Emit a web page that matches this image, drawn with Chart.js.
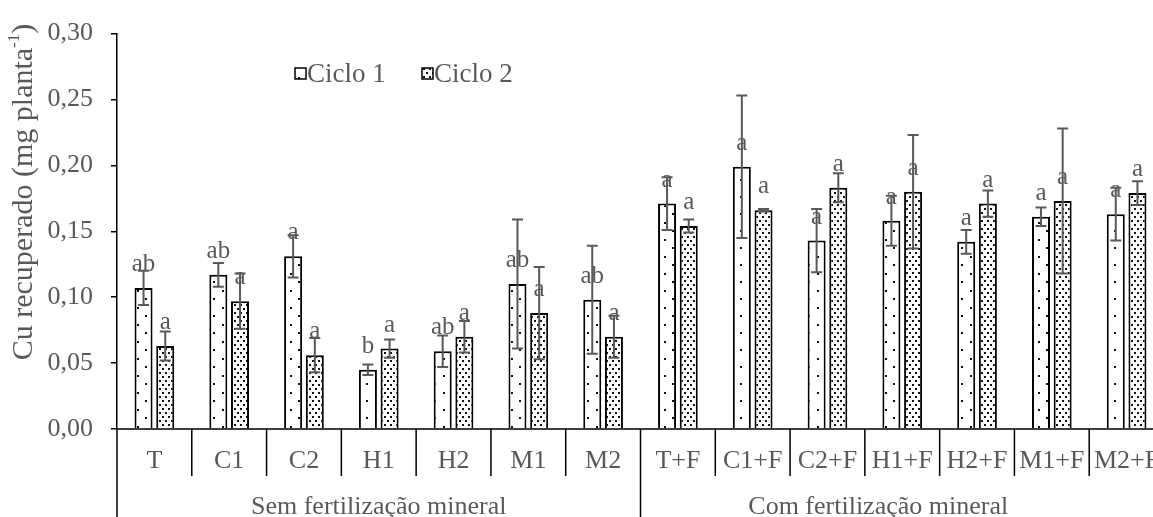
<!DOCTYPE html>
<html>
<head>
<meta charset="utf-8">
<script src="https://cdn.jsdelivr.net/npm/chart.js@4"></script>
<style>
  html, body { margin: 0; padding: 0; background: #fff; overflow: hidden; }
  #wrap { width: 1165px; height: 517px; }
</style>
</head>
<body>
<div id="wrap"><canvas id="c" width="1165" height="517"></canvas></div>
<script>
// ---- data ----
const categories = ['T','C1','C2','H1','H2','M1','M2','T+F','C1+F','C2+F','H1+F','H2+F','M1+F','M2+F'];
const groupLabels = ['Sem fertilização mineral', 'Com fertilização mineral'];
const groupStarts = [0, 7];
const groupEnds = [6, 13];
const seriesNames = ['Ciclo 1', 'Ciclo 2'];
const ciclo1 = [0.107, 0.117, 0.131, 0.045, 0.059, 0.110, 0.098, 0.171, 0.199, 0.143, 0.158, 0.142, 0.161, 0.163];
const ciclo2 = [0.063, 0.097, 0.056, 0.061, 0.070, 0.088, 0.070, 0.154, 0.166, 0.183, 0.180, 0.171, 0.173, 0.179];
const err1 = [0.013, 0.009, 0.016, 0.004, 0.012, 0.049, 0.041, 0.020, 0.054, 0.024, 0.019, 0.009, 0.007, 0.020];
const err2 = [0.011, 0.021, 0.013, 0.007, 0.012, 0.035, 0.016, 0.005, 0.001, 0.011, 0.043, 0.010, 0.055, 0.009];
const letters1 = ['ab','ab','a','b','ab','ab','ab','a','a','a','a','a','a','a'];
const letters2 = ['a','a','a','a','a','a','a','a','a','a','a','a','a','a'];
const yTicks = [0, 0.05, 0.10, 0.15, 0.20, 0.25, 0.30];
const yTitle = 'Cu recuperado (mg planta';
const yTitleSup = '-1';
const yTitleEnd = ')';

// ---- styles ----
const FONT = "'Liberation Serif', 'Times New Roman', serif";
const TEXT = '#595959';

function makePattern(w, h, dots, size) {
  const c = document.createElement('canvas');
  c.width = w; c.height = h;
  const g = c.getContext('2d');
  g.fillStyle = '#fff'; g.fillRect(0, 0, w, h);
  g.fillStyle = '#111';
  dots.forEach(d => g.fillRect(d[0], d[1], size, size));
  return document.getElementById('c').getContext('2d').createPattern(c, 'repeat');
}
const pat1 = makePattern(17, 17, [[1,1],[9,9]], 2);
const pat2 = makePattern(6, 8, [[0,0],[3,4]], 2);

const custom = {
  id: 'custom',
  afterDatasetsDraw(chart) {
    const ctx = chart.ctx, y = chart.scales.y;
    const errs = [err1, err2], lets = [letters1, letters2];
    // letters
    ctx.save();
    ctx.font = '25px ' + FONT;
    ctx.fillStyle = TEXT;
    ctx.textAlign = 'center';
    ctx.textBaseline = 'alphabetic';
    [0,1].forEach(di => {
      chart.getDatasetMeta(di).data.forEach((bar, i) => {
        ctx.fillText(lets[di][i], bar.x, bar.y - 17);
      });
    });
    // error bars
    ctx.strokeStyle = TEXT;
    ctx.lineWidth = 2;
    [0,1].forEach(di => {
      const vals = chart.data.datasets[di].data;
      chart.getDatasetMeta(di).data.forEach((bar, i) => {
        const t = y.getPixelForValue(vals[i] + errs[di][i]);
        const b = y.getPixelForValue(vals[i] - errs[di][i]);
        ctx.beginPath();
        ctx.moveTo(bar.x, t); ctx.lineTo(bar.x, b);
        ctx.moveTo(bar.x - 5.5, t); ctx.lineTo(bar.x + 5.5, t);
        ctx.moveTo(bar.x - 5.5, b); ctx.lineTo(bar.x + 5.5, b);
        ctx.stroke();
      });
    });
    ctx.restore();
  },
  afterDraw(chart) {
    const ctx = chart.ctx, x = chart.scales.x, area = chart.chartArea;
    const H = chart.height;
    const half = (x.getPixelForValue(1) - x.getPixelForValue(0)) / 2;
    ctx.save();
    // axis lines
    ctx.strokeStyle = '#000';
    ctx.lineWidth = 1.5;
    ctx.beginPath();
    ctx.moveTo(area.left, area.bottom); ctx.lineTo(area.right, area.bottom);
    ctx.moveTo(area.left, area.bottom); ctx.lineTo(area.left, H);
    for (let i = 1; i < categories.length; i++) {
      const bx = x.getPixelForValue(i) - half;
      const isGroup = groupStarts.includes(i);
      ctx.moveTo(bx, area.bottom); ctx.lineTo(bx, isGroup ? H : area.bottom + 47);
    }
    ctx.stroke();
    // category labels
    ctx.fillStyle = TEXT;
    ctx.font = '26px ' + FONT;
    ctx.textAlign = 'center';
    ctx.textBaseline = 'alphabetic';
    categories.forEach((c, i) => ctx.fillText(c, x.getPixelForValue(i), area.bottom + 39));
    // group labels
    groupLabels.forEach((g, k) => {
      const l = x.getPixelForValue(groupStarts[k]) - half;
      const r = Math.min(x.getPixelForValue(groupEnds[k]) + half, 1116);
      ctx.fillText(g, (l + r) / 2, area.bottom + 85);
    });
    // legend
    const legendX = [295, 422];
    const pats = [pat1, pat2];
    ctx.textAlign = 'left';
    ctx.font = '27px ' + FONT;
    ctx.textBaseline = 'middle';
    seriesNames.forEach((s, k) => {
      ctx.fillStyle = pats[k];
      ctx.fillRect(legendX[k], 68, 11, 11);
      ctx.strokeStyle = '#000';
      ctx.lineWidth = 1.5;
      ctx.strokeRect(legendX[k], 68, 11, 11);
      ctx.fillStyle = TEXT;
      ctx.fillText(s, legendX[k] + 12, 75);
    });
    // y title
    ctx.translate(24, 192);
    ctx.rotate(-Math.PI / 2);
    const big = '30px ' + FONT, small = '17px ' + FONT;
    ctx.font = big; const w1 = ctx.measureText(yTitle).width; const w3 = ctx.measureText(yTitleEnd).width;
    ctx.font = small; const w2 = ctx.measureText(yTitleSup).width;
    let sx = -(w1 + w2 + w3) / 2;
    ctx.textBaseline = 'middle';
    ctx.font = big; ctx.fillText(yTitle, sx, 0); sx += w1;
    ctx.font = small; ctx.fillText(yTitleSup, sx, -9); sx += w2;
    ctx.font = big; ctx.fillText(yTitleEnd, sx, 0);
    ctx.restore();
  }
};

new Chart(document.getElementById('c'), {
  type: 'bar',
  data: {
    labels: categories,
    datasets: [
      { label: seriesNames[0], data: ciclo1, backgroundColor: pat1, borderColor: '#000', borderWidth: 2, borderSkipped: 'start' },
      { label: seriesNames[1], data: ciclo2, backgroundColor: pat2, borderColor: '#000', borderWidth: 2, borderSkipped: 'start' }
    ]
  },
  options: {
    responsive: false,
    animation: false,
    events: [],
    layout: { padding: { top: 25, bottom: 88, left: 0, right: 1 } },
    datasets: { bar: { categoryPercentage: 0.58, barPercentage: 0.83 } },
    plugins: { legend: { display: false }, tooltip: { enabled: false } },
    scales: {
      x: { display: false },
      y: {
        min: 0, max: 0.30,
        afterBuildTicks: (s) => { s.ticks = yTicks.map(v => ({ value: v })); },
        afterFit: (s) => { s.width = 117; },
        ticks: {
          color: TEXT,
          font: { family: FONT, size: 26 },
          padding: 18,
          callback: (v) => Number(v).toFixed(2).replace('.', ',')
        },
        grid: { drawOnChartArea: false, drawTicks: true, tickLength: 6, color: '#000', lineWidth: 1.5 },
        border: { display: true, color: '#000', width: 1.5 }
      }
    }
  },
  plugins: [custom]
});
</script>
</body>
</html>
